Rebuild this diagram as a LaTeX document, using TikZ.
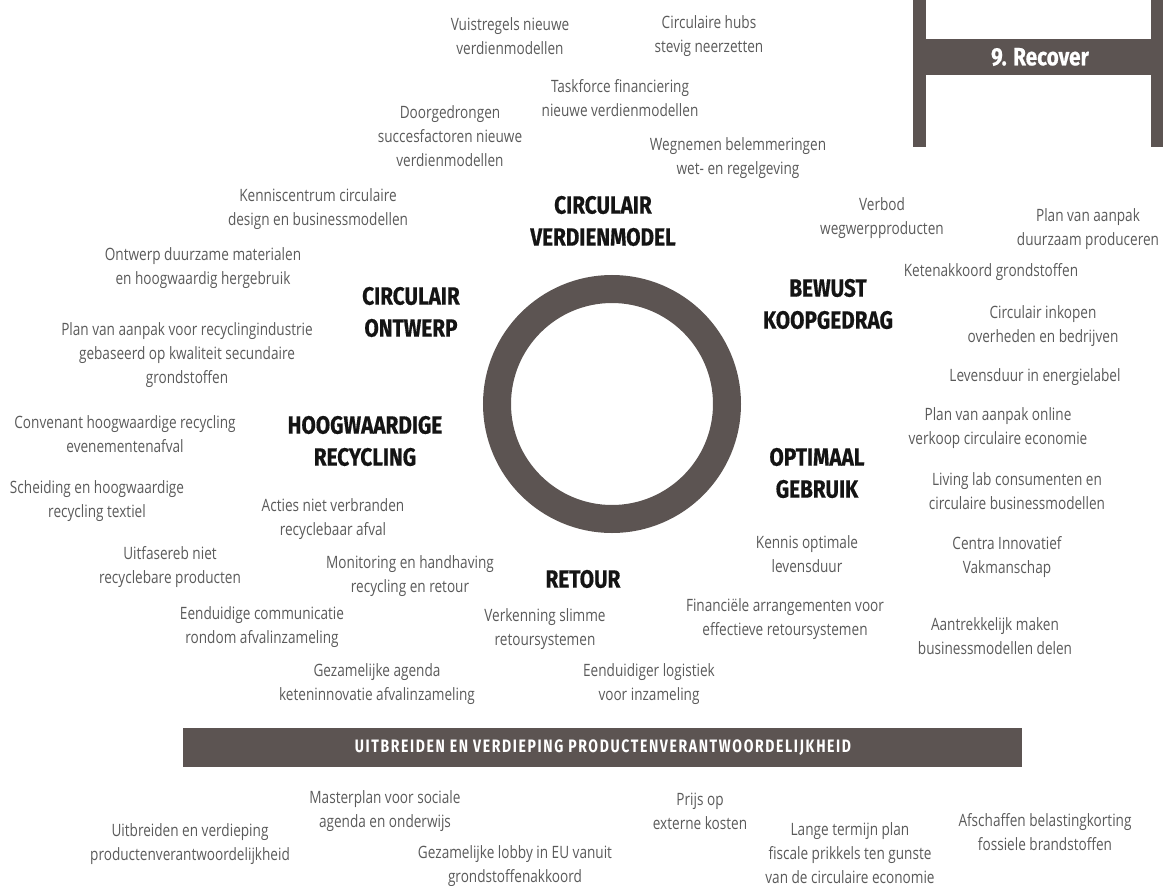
\documentclass[tikz,border=0pt]{standalone}
\usepackage{fontspec}
\setmainfont{Open Sans}[FakeStretch=0.8]
\newfontfamily\headfont{Fira Sans}[FakeStretch=0.83, FakeBold=0.5]
\newfontfamily\barfont{Fira Sans}[FakeStretch=0.78, LetterSpace=9]
\usepackage{xcolor}
\usepackage{tikz}
\definecolor{bar}{HTML}{5C5452}
\definecolor{ink}{HTML}{5A5A5A}
\definecolor{head}{HTML}{141414}
\tikzset{
  ring/.style={draw=bar, line width=28pt},
  barfill/.style={fill=bar, draw=none},
  item/.style={text=ink, align=center, inner sep=0pt, font=\fontsize{17}{24}\selectfont},
  topic/.style={text=head, align=center, inner sep=0pt, font=\headfont\bfseries\fontsize{25}{32}\selectfont},
  bartext/.style={text=white, inner sep=0pt, font=\barfont\bfseries\fontsize{18}{20}\selectfont}
}

\begin{document}
\begin{tikzpicture}[x=1pt, y=-1pt]
  \useasboundingbox (0,0) rectangle (1163,886);
  % panel top right
  \fill[barfill] (913,0) rectangle (926,147);
  \fill[barfill] (1151,0) rectangle (1163,147);
  \fill[barfill] (926,39) rectangle (1151,75);
  \node[bartext, font=\headfont\bfseries\fontsize{25}{28}\selectfont] (recover) at (1040,57) {9. Recover};

  % ring
  \coordinate (O) at (612,404);
  \draw[ring] (O) circle (115);

  % themes
  \node[topic] (verdien) at (603,221) {CIRCULAIR\\VERDIENMODEL};
  \node[topic] (koop) at (828,304) {BEWUST\\KOOPGEDRAG};
  \node[topic] (ontwerp) at (411,312) {CIRCULAIR\\ONTWERP};
  \node[topic] (recycling) at (365,441) {HOOGWAARDIGE\\RECYCLING};
  \node[topic] (gebruik) at (817,473) {OPTIMAAL\\GEBRUIK};
  \node[topic] (retour) at (583,579) {RETOUR};

  % actions
  \node[item] (vuist) at (510,36) {Vuistregels nieuwe\\verdienmodellen};
  \node[item] (hubs) at (709,36) {Circulaire hubs\\stevig neerzetten};
  \node[item] (task) at (620,98) {Taskforce financiering\\nieuwe verdienmodellen};
  \node[item] (door) at (450,136) {Doorgedrongen\\succesfactoren nieuwe\\verdienmodellen};
  \node[item] (wegnemen) at (738,158) {Wegnemen belemmeringen\\wet- en regelgeving};
  \node[item] (kennis) at (318,209) {Kenniscentrum circulaire\\design en businessmodellen};
  \node[item] (materialen) at (203,268) {Ontwerp duurzame materialen\\en hoogwaardig hergebruik};
  \node[item] (industrie) at (187,355) {Plan van aanpak voor recyclingindustrie\\gebaseerd op kwaliteit secundaire\\grondstoffen};
  \node[item] (convenant) at (125,434) {Convenant hoogwaardige recycling\\evenementenafval};
  \node[item] (textiel) at (97,501) {Scheiding en hoogwaardige\\recycling textiel};
  \node[item] (uitfase) at (170,567) {Uitfasereb niet\\recyclebare producten};
  \node[item] (acties) at (333,519) {Acties niet verbranden\\recyclebaar afval};
  \node[item] (monitor) at (410,576) {Monitoring en handhaving\\recycling en retour};
  \node[item] (communicatie) at (262,627) {Eenduidige communicatie\\rondom afvalinzameling};
  \node[item] (agenda) at (377,684) {Gezamelijke agenda\\keteninnovatie afvalinzameling};
  \node[item] (verkenning) at (545,629) {Verkenning slimme\\retoursystemen};
  \node[item] (logistiek) at (649,684) {Eenduidiger logistiek\\voor inzameling};
  \node[item] (levensduur) at (807,554) {Kennis optimale\\levensduur};
  \node[item] (financieel) at (785,619) {Financiële arrangementen voor\\effectieve retoursystemen};
  \node[item] (verbod) at (882,218) {Verbod\\wegwerpproducten};
  \node[item] (produceren) at (1088,229) {Plan van aanpak\\duurzaam produceren};
  \node[item] (keten) at (991,272) {Ketenakkoord grondstoffen};
  \node[item] (inkopen) at (1043,326) {Circulair inkopen\\overheden en bedrijven};
  \node[item] (label) at (1035,377) {Levensduur in energielabel};
  \node[item] (online) at (998,428) {Plan van aanpak online\\verkoop circulaire economie};
  \node[item] (living) at (1017,491) {Living lab consumenten en\\circulaire businessmodellen};
  \node[item] (centra) at (1007,557) {Centra Innovatief\\Vakmanschap};
  \node[item] (delen) at (995,636) {Aantrekkelijk maken\\businessmodellen delen};

  % bottom bar
  \fill[barfill] (183,728) rectangle (1022,767);
  \node[bartext] (upv) at (603,748) {UITBREIDEN EN VERDIEPING PRODUCTENVERANTWOORDELIJKHEID};
  \node[item] (master) at (385,811) {Masterplan voor sociale\\agenda en onderwijs};
  \node[item] (prijs) at (700,811) {Prijs op\\externe kosten};
  \node[item] (uitbreiden) at (190,844) {Uitbreiden en verdieping\\productenverantwoordelijkheid};
  \node[item] (lobby) at (515,866) {Gezamelijke lobby in EU vanuit\\grondstoffenakkoord};
  \node[item] (fiscaal) at (850,853) {Lange termijn plan\\fiscale prikkels ten gunste\\van de circulaire economie};
  \node[item] (fossiel) at (1045,832) {Afschaffen belastingkorting\\fossiele brandstoffen};
\end{tikzpicture}
\end{document}
